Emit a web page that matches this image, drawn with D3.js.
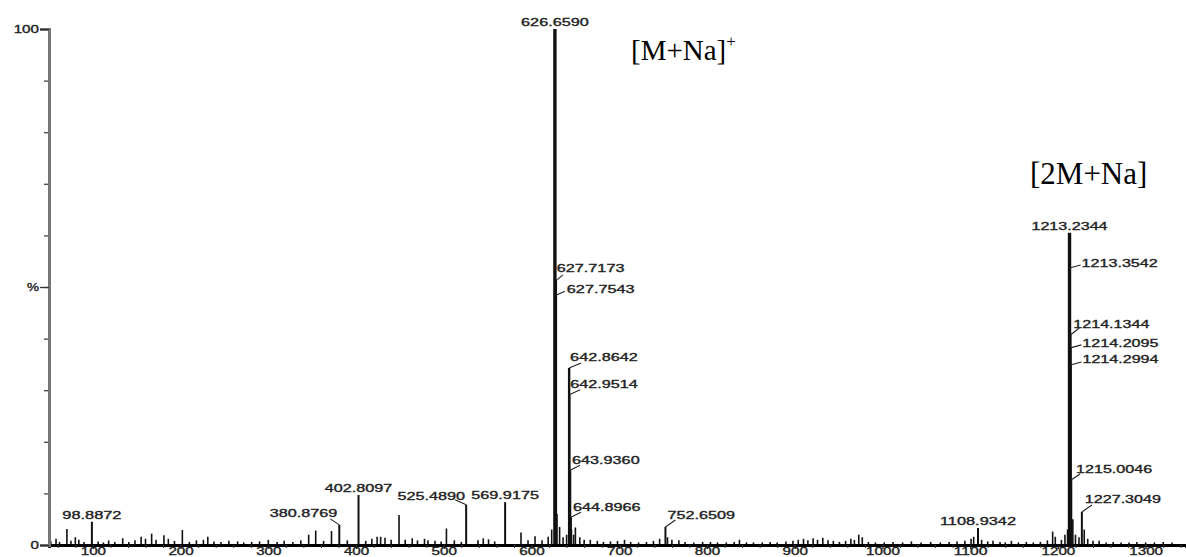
<!DOCTYPE html>
<html>
<head>
<meta charset="utf-8">
<script src="https://cdn.jsdelivr.net/npm/d3@7"></script>
<style>
  body { margin: 0; background: #fff; }
  svg { display: block; }
</style>
</head>
<body>
<div id="chart"></div>
<script>
// labelled peaks: m/z and relative intensity (%)
const labelMz = [98.8872, 380.8769, 402.8097, 525.4890, 569.9175, 626.6590, 627.7173, 627.7543,
  642.8642, 642.9514, 643.9360, 644.8966, 752.6509, 1108.9342, 1213.2344, 1213.3542,
  1214.1344, 1214.2095, 1214.2994, 1215.0046, 1227.3049];
const labelInt = [4.5, 3.9, 9.7, 7.8, 8.3, 100, 51.2, 48.4,
  34.3, 29.1, 14.5, 5.4, 3.5, 3.3, 60.5, 53.7,
  40.7, 38.2, 34.9, 12.6, 6.4];

// unlabelled small peaks (noise / minor ions)
const minorMz = [52, 58, 62, 70.4, 75, 80, 84, 90, 106, 112, 118, 125, 134, 141, 148, 155, 160, 167, 172,
  181, 186, 193, 202, 210, 218, 226, 231, 238, 246, 255, 265, 272, 281, 290, 300, 310, 318, 328, 337,
  346, 354, 363, 372, 390, 411, 418, 424, 428, 433, 440, 449, 456, 464, 470, 478, 482, 490, 497, 503,
  512, 520, 539, 545, 551, 558, 588, 596, 604, 612, 619, 623, 629, 632, 636, 640, 645.5, 648, 650, 655,
  660, 667, 675, 682, 690, 698, 706, 713, 722, 731, 739, 746, 755, 760, 768, 775, 785, 795, 804, 812,
  822, 831, 837, 845, 853, 863, 872, 880, 890, 898, 904, 910, 915, 921, 926, 932, 938, 944, 951, 958,
  964, 968, 973, 977, 984, 992, 1002, 1012, 1023, 1033, 1044, 1055, 1066, 1076, 1085, 1094, 1101, 1104,
  1113, 1120, 1126, 1134, 1140, 1147, 1155, 1164, 1172, 1180, 1188, 1194, 1197, 1204, 1208, 1211, 1217,
  1220, 1224, 1230, 1234, 1240, 1247, 1255, 1263, 1272, 1281, 1290, 1300, 1310, 1320, 1330, 1340];
const minorInt = [0.8, 1.2, 0.6, 3.1, 0.8, 1.5, 1.0, 0.6, 0.7, 0.5, 0.9, 0.6, 1.3, 0.6, 0.9, 1.6, 1.2, 2.2, 1.0,
  1.9, 1.2, 0.8, 2.9, 0.6, 0.9, 1.0, 1.6, 0.7, 0.6, 0.8, 0.7, 0.5, 0.6, 0.7, 1.0, 0.6, 0.8, 0.6, 0.9,
  2.0, 2.8, 0.8, 2.7, 0.9, 0.8, 1.2, 1.6, 1.6, 1.4, 1.0, 5.8, 1.0, 1.3, 0.9, 1.2, 0.9, 0.8, 0.7, 3.2,
  0.9, 0.6, 0.9, 1.3, 1.1, 0.7, 2.4, 0.9, 1.7, 0.9, 1.6, 3.0, 6.0, 3.5, 1.5, 2.0, 3.0, 2.0, 3.4, 1.5,
  1.0, 1.0, 0.8, 0.6, 0.7, 0.8, 1.0, 0.6, 0.5, 0.6, 0.8, 1.2, 1.5, 1.0, 0.9, 0.6, 0.5, 0.6, 0.6, 0.5,
  0.5, 0.6, 1.0, 0.5, 0.5, 0.5, 0.6, 0.5, 0.7, 0.8, 1.0, 1.2, 0.9, 1.3, 1.0, 1.4, 0.9, 0.8, 0.6, 0.8,
  1.2, 1.0, 2.0, 1.5, 0.6, 0.5, 0.5, 0.6, 0.5, 0.7, 0.5, 0.6, 0.5, 0.6, 0.7, 0.8, 1.2, 1.6,
  1.0, 0.7, 0.8, 0.6, 0.5, 0.8, 0.5, 0.6, 0.5, 0.6, 0.9, 2.6, 1.6, 1.0, 2.0, 3.0, 5.0,
  2.0, 1.5, 3.0, 1.2, 0.8, 0.8, 0.5, 0.6, 0.5, 0.5, 0.6, 0.5, 0.5, 0.6, 0.5];

const xTicks = [100, 200, 300, 400, 500, 600, 700, 800, 900, 1000, 1100, 1200, 1300];
const yTicks = [0, 50, 100];

// label placement: "top" = centred above the peak, otherwise leader line + offsets (px)
// [mode, leaderDx, leaderDy, textDx, textDy]
const labelPlace = [
  ["top"], ["left", -9, -6, -2, -8], ["top"], ["left", -11, -5, -1, -5], ["top"], ["top"],
  ["right", 7, -6, 1, -9], ["right", 9, -4, 11, -2],
  ["right", 12, -5, 1, -7], ["right", 11, -5, 1, -7], ["right", 10, -5, 2, -6], ["right", 10, -5, 2, -6],
  ["right", 10, -7, 2, -8], ["top"], ["top"], ["right", 11, -3, 12, -1],
  ["right", 9, -7, 3, -7], ["right", 11, -3, 12, -1], ["right", 11, -3, 12, -2],
  ["right", 9, -6, 5, -7], ["right", 10, -7, 3, -9]
];

const W = 1186, H = 557;
const svg = d3.select("#chart").append("svg").attr("width", W).attr("height", H);

const x = d3.scaleLinear().domain([50, 1346]).range([49, 1186]);
const y = d3.scaleLinear().domain([0, 100]).range([545, 29]);

const labelFont = "'Liberation Sans', Arial, sans-serif";
const charW = 8.45; // the original labels are drawn wide

function styleLabel(sel, len) {
  sel.attr("font-family", labelFont).attr("font-size", 11).attr("fill", "#222")
    .attr("stroke", "#222").attr("stroke-width", 0.35)
    .attr("textLength", len)
    .attr("lengthAdjust", "spacingAndGlyphs");
}

// minor peaks
svg.append("g").selectAll("line")
  .data(d3.zip(minorMz, minorInt))
  .join("line")
  .attr("x1", d => x(d[0])).attr("x2", d => x(d[0]))
  .attr("y1", y(0)).attr("y2", d => y(d[1]))
  .attr("stroke", "#111").attr("stroke-width", 1.6);

// labelled peaks
const peaks = d3.zip(labelMz, labelInt);
svg.append("g").selectAll("line")
  .data(peaks)
  .join("line")
  .attr("x1", d => x(d[0])).attr("x2", d => x(d[0]))
  .attr("y1", y(0)).attr("y2", d => y(d[1]))
  .attr("stroke", "#111")
  .attr("stroke-width", d => d[1] >= 60 ? 3.4 : (d[1] > 10 ? 2.4 : 2));

// x axis
const xAxis = svg.append("g")
  .attr("transform", `translate(0,${y(0)})`)
  .call(d3.axisBottom(x).tickValues(d3.range(60, 1346, 20)).tickSize(3).tickFormat(""));
xAxis.select(".domain").attr("stroke", "#000").attr("stroke-width", 2.8);
xAxis.selectAll(".tick line").attr("stroke", "#333");

const xMajor = svg.append("g")
  .attr("transform", `translate(0,${y(0)})`)
  .call(d3.axisBottom(x).tickValues(xTicks).tickSize(4).tickFormat(d3.format("d")));
xMajor.select(".domain").remove();
xMajor.selectAll(".tick line").attr("stroke", "#222").attr("stroke-width", 1.2);
xMajor.selectAll("text").attr("y", 2.5).call(styleLabel, d => String(d).length * charW);

// y axis
const yMinor = svg.append("g")
  .attr("transform", `translate(${x(50)},0)`)
  .call(d3.axisLeft(y).tickValues(d3.range(10, 100, 10)).tickSize(5).tickFormat(""));
yMinor.select(".domain").remove();
yMinor.selectAll(".tick line").attr("stroke", "#444").attr("stroke-width", 1.3);

const yAxis = svg.append("g")
  .attr("transform", `translate(${x(50)},0)`)
  .call(d3.axisLeft(y).tickValues(yTicks).tickSize(9).tickPadding(1)
    .tickFormat(d => d === 50 ? "%" : d));
yAxis.select(".domain").attr("stroke", "#777").attr("stroke-width", 3);
yAxis.selectAll(".tick line").attr("stroke", "#333").attr("stroke-width", 1.3);
yAxis.selectAll("text").call(styleLabel, d => d === 50 ? 12 : String(d).length * charW);

// peak labels
const lab = svg.append("g");
peaks.forEach((p, i) => {
  const px = x(p[0]), py = y(p[1]);
  const pl = labelPlace[i];
  const txt = p[0].toFixed(4);
  const t = lab.append("text").text(txt).call(styleLabel, txt.length * charW);
  if (pl[0] === "top") {
    t.attr("x", px).attr("y", py - 3).attr("text-anchor", "middle");
  } else {
    lab.append("line")
      .attr("x1", px).attr("y1", py)
      .attr("x2", px + pl[1]).attr("y2", py + pl[2])
      .attr("stroke", "#222").attr("stroke-width", 1.1);
    t.attr("x", px + pl[3]).attr("y", py + pl[4])
      .attr("text-anchor", pl[0] === "left" ? "end" : "start");
  }
});

// ion annotations
const serif = "'Liberation Serif', 'Times New Roman', serif";
const a1 = svg.append("text")
  .attr("x", 631).attr("y", 60)
  .attr("font-family", serif).attr("font-size", 29).attr("fill", "#000")
  .text("[M+Na]");
a1.append("tspan").attr("font-size", 17).attr("dy", -13).text("+");

svg.append("text")
  .attr("x", 1030).attr("y", 184)
  .attr("font-family", serif).attr("font-size", 31).attr("fill", "#000")
  .text("[2M+Na]");
</script>
</body>
</html>
